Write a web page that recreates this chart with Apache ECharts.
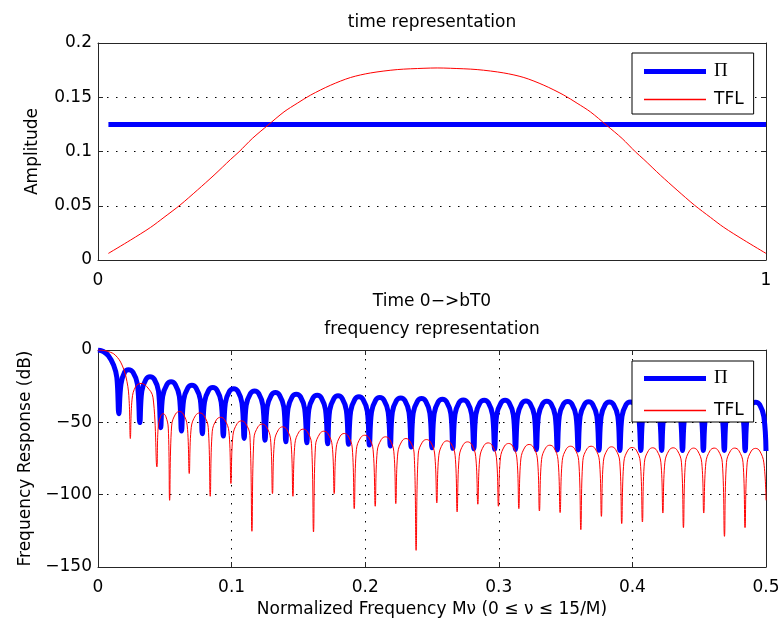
<!DOCTYPE html>
<html><head><meta charset="utf-8">
<script src="https://cdn.jsdelivr.net/npm/echarts@6/dist/echarts.min.js"></script>
<style>html,body{margin:0;padding:0;background:#fff}#c{width:783px;height:623px}</style>
</head><body><div id="c"></div>
<script>
// ---------- data ----------
const topTitle = 'time representation';
const bottomTitle = 'frequency representation';
const seriesNames = ['Π', 'TFL'];

// top panel: time representation [time, amplitude]
const piTime = [[0.0156, 0.125], [1, 0.125]];
const tflTime = [
  [0.0156, 0.0061], [0.0488, 0.0184], [0.0788, 0.0301], [0.0988, 0.0393], [0.1228, 0.0506],
  [0.1487, 0.0644], [0.1737, 0.0782], [0.1985, 0.0927], [0.2111, 0.0997], [0.231, 0.112],
  [0.2545, 0.1243], [0.2784, 0.1365], [0.2984, 0.1445], [0.3183, 0.152], [0.3482, 0.1611],
  [0.3781, 0.1682], [0.4081, 0.1724], [0.448, 0.1755], [0.488, 0.1767], [0.5078, 0.177],
  [0.5276, 0.1767], [0.5676, 0.1755], [0.6075, 0.1724], [0.6375, 0.1682], [0.6674, 0.1611],
  [0.6973, 0.152], [0.7172, 0.1445], [0.7372, 0.1365], [0.7611, 0.1243], [0.7846, 0.112],
  [0.8045, 0.0997], [0.8171, 0.0927], [0.8419, 0.0782], [0.8669, 0.0644], [0.8928, 0.0506],
  [0.9168, 0.0393], [0.9368, 0.0301], [0.9668, 0.0184], [1.0, 0.0061]
];

// bottom panel: frequency response [normalized frequency, dB]
const piFreq = [
  [0,0],[0.004,-1],[0.0078,-4],[0.0117,-10.5],[0.0141,-19],
  [0.0156,-44],[0.0172,-23.6],[0.0200,-15.2],[0.0228,-13.6],[0.0262,-15.4],[0.0295,-23.6],
  [0.0313,-50.2],[0.0328,-28.5],[0.0359,-20.3],[0.0389,-18.5],[0.0422,-20.3],[0.0453,-28.5],
  [0.0469,-53.7],[0.0484,-32],[0.0516,-23.8],[0.0547,-22],[0.0578,-23.8],[0.0609,-32],
  [0.0625,-56],[0.0641,-34.4],[0.0672,-26.2],[0.0703,-24.4],[0.0734,-26.2],[0.0766,-34.4],
  [0.0781,-57.9],[0.0797,-36],[0.0828,-27.8],[0.0859,-26],[0.0891,-27.8],[0.0922,-36],
  [0.0938,-59.5],[0.0953,-36.7],[0.0984,-28.5],[0.1016,-26.7],[0.1047,-28.5],[0.1078,-36.7],
  [0.1094,-61.1],[0.1109,-38.3],[0.1141,-30.1],[0.1172,-28.3],[0.1203,-30.1],[0.1234,-38.3],
  [0.125,-62.4],[0.1266,-39.4],[0.1297,-31.2],[0.1328,-29.4],[0.1359,-31.2],[0.1391,-39.4],
  [0.1406,-63.4],[0.1422,-40.6],[0.1453,-32.4],[0.1484,-30.6],[0.1516,-32.4],[0.1547,-40.6],
  [0.1563,-64.1],[0.1578,-41.3],[0.1609,-33.1],[0.1641,-31.3],[0.1672,-33.1],[0.1703,-41.3],
  [0.1719,-64.8],[0.1734,-41.7],[0.1766,-33.5],[0.1797,-31.7],[0.1828,-33.5],[0.1859,-41.7],
  [0.1875,-65.2],[0.1891,-42.4],[0.1922,-34.2],[0.1953,-32.4],[0.1984,-34.2],[0.2016,-42.4],
  [0.2031,-65.7],[0.2047,-42.9],[0.2078,-34.7],[0.2109,-32.9],[0.2141,-34.7],[0.2172,-42.9],
  [0.2188,-66.4],[0.2203,-43.1],[0.2234,-34.9],[0.2266,-33.1],[0.2297,-34.9],[0.2328,-43.1],
  [0.2344,-67.1],[0.2359,-43.6],[0.2391,-35.4],[0.2422,-33.6],[0.2453,-35.4],[0.2484,-43.6],
  [0.25,-67.6],[0.2516,-44],[0.2547,-35.8],[0.2578,-34],[0.2609,-35.8],[0.2641,-44],
  [0.2656,-68],[0.2672,-44.5],[0.2703,-36.3],[0.2734,-34.5],[0.2766,-36.3],[0.2797,-44.5],
  [0.2813,-68.3],[0.2828,-44.7],[0.2859,-36.5],[0.2891,-34.7],[0.2922,-36.5],[0.2953,-44.7],
  [0.2969,-68.5],[0.2984,-44.8],[0.3016,-36.6],[0.3047,-34.8],[0.3078,-36.6],[0.3109,-44.8],
  [0.3125,-68.7],[0.3141,-45.2],[0.3172,-37],[0.3203,-35.2],[0.3234,-37],[0.3266,-45.2],
  [0.3281,-68.9],[0.3297,-45.4],[0.3328,-37.2],[0.3359,-35.4],[0.3391,-37.2],[0.3422,-45.4],
  [0.3438,-69.1],[0.3453,-45.6],[0.3484,-37.4],[0.3516,-35.6],[0.3547,-37.4],[0.3578,-45.6],
  [0.3594,-69.1],[0.3609,-45.8],[0.3641,-37.6],[0.3672,-35.8],[0.3703,-37.6],[0.3734,-45.8],
  [0.375,-69.3],[0.3766,-45.9],[0.3797,-37.7],[0.3828,-35.9],[0.3859,-37.7],[0.3891,-45.9],
  [0.3906,-69.4],[0.3922,-45.9],[0.3953,-37.7],[0.3984,-35.9],[0.4016,-37.7],[0.4047,-45.9],
  [0.4063,-69.4],[0.4078,-46],[0.4109,-37.8],[0.4141,-36],[0.4172,-37.8],[0.4203,-46],
  [0.4219,-69.4],[0.4234,-46],[0.4266,-37.8],[0.4297,-36],[0.4328,-37.8],[0.4359,-46],
  [0.4375,-69.4],[0.4391,-46],[0.4422,-37.8],[0.4453,-36],[0.4484,-37.8],[0.4516,-46],
  [0.4531,-69.5],[0.4547,-46.1],[0.4578,-37.9],[0.4609,-36.1],[0.4641,-37.9],[0.4672,-46.1],
  [0.4688,-69.5],[0.4703,-46.1],[0.4734,-37.9],[0.4766,-36.1],[0.4797,-37.9],[0.4828,-46.1],
  [0.4844,-69.6],[0.4859,-46.1],[0.4891,-37.9],[0.4922,-36.1],[0.4953,-37.9],[0.4984,-46.1],
  [0.5,-69.8]
];
const tflFreq = [
  [0,0],[0.004,-0.3],[0.0079,-1.1],[0.0129,-3.5],[0.018,-10.4],[0.0217,-21.9],[0.0233,-35],
  [0.0242,-61.2],[0.0255,-34],[0.0282,-25.3],[0.0322,-23.1],[0.0365,-25.3],[0.0412,-33],
  [0.0441,-80.8],[0.0450,-54],[0.0469,-45.8],[0.0488,-44],[0.0507,-45.8],[0.0526,-54],
  [0.0536,-103.9],[0.0551,-52.5],[0.0580,-44.3],[0.0610,-42.5],[0.0639,-44.3],[0.0668,-52.5],
  [0.0683,-85.4],[0.0698,-53.5],[0.0730,-45.3],[0.0762,-43.5],[0.0793,-45.3],[0.0825,-53.5],
  [0.0840,-101.1],[0.0855,-56.5],[0.0886,-48.3],[0.0918,-46.5],[0.0949,-48.3],[0.0980,-56.5],
  [0.0995,-92.3],[0.1010,-59],[0.1042,-50.8],[0.1074,-49],[0.1105,-50.8],[0.1137,-59],
  [0.1152,-125.3],[0.1167,-61.2],[0.1198,-53],[0.1229,-51.2],[0.1260,-53],[0.1291,-61.2],
  [0.1306,-99.3],[0.1321,-63.1],[0.1352,-54.9],[0.1383,-53.1],[0.1413,-54.9],[0.1444,-63.1],
  [0.1459,-101.1],[0.1474,-64.7],[0.1505,-56.5],[0.1536,-54.7],[0.1567,-56.5],[0.1598,-64.7],
  [0.1613,-125.8],[0.1628,-66.1],[0.1660,-57.9],[0.1691,-56.1],[0.1722,-57.9],[0.1753,-66.1],
  [0.1768,-99.3],[0.1783,-67.7],[0.1813,-59.5],[0.1843,-57.7],[0.1873,-59.5],[0.1903,-67.7],
  [0.1918,-109.7],[0.1934,-68.9],[0.1965,-60.7],[0.1997,-58.9],[0.2028,-60.7],[0.2059,-68.9],
  [0.2075,-108],[0.2090,-70],[0.2121,-61.8],[0.2152,-60],[0.2183,-61.8],[0.2214,-70],
  [0.2229,-106.2],[0.2244,-71.2],[0.2275,-63],[0.2305,-61.2],[0.2335,-63],[0.2366,-71.2],
  [0.2381,-138.5],[0.2397,-71.9],[0.2428,-63.7],[0.2459,-61.9],[0.2490,-63.7],[0.2520,-71.9],
  [0.2536,-105.7],[0.2551,-72.8],[0.2582,-64.6],[0.2612,-62.8],[0.2642,-64.6],[0.2673,-72.8],
  [0.2688,-111.9],[0.2704,-73.5],[0.2735,-65.3],[0.2766,-63.5],[0.2797,-65.3],[0.2827,-73.5],
  [0.2843,-106.6],[0.2858,-74.2],[0.2889,-66],[0.2920,-64.2],[0.2951,-66],[0.2982,-74.2],
  [0.2997,-108],[0.3012,-74.6],[0.3043,-66.4],[0.3074,-64.6],[0.3104,-66.4],[0.3135,-74.6],
  [0.3150,-109.7],[0.3165,-75.3],[0.3196,-67.1],[0.3227,-65.3],[0.3258,-67.1],[0.3289,-75.3],
  [0.3304,-111.3],[0.3320,-75.8],[0.3351,-67.6],[0.3382,-65.8],[0.3413,-67.6],[0.3443,-75.8],
  [0.3459,-112.4],[0.3475,-76.5],[0.3506,-68.3],[0.3537,-66.5],[0.3568,-68.3],[0.3598,-76.5],
  [0.3614,-124.2],[0.3629,-76.5],[0.3660,-68.3],[0.3691,-66.5],[0.3722,-68.3],[0.3753,-76.5],
  [0.3768,-115],[0.3783,-76.9],[0.3814,-68.7],[0.3844,-66.9],[0.3874,-68.7],[0.3905,-76.9],
  [0.3920,-120],[0.3936,-77.4],[0.3967,-69.2],[0.3998,-67.4],[0.4029,-69.2],[0.4059,-77.4],
  [0.4075,-118.9],[0.4090,-77.6],[0.4121,-69.4],[0.4152,-67.6],[0.4182,-69.4],[0.4213,-77.6],
  [0.4228,-112.7],[0.4243,-77.6],[0.4274,-69.4],[0.4305,-67.6],[0.4336,-69.4],[0.4367,-77.6],
  [0.4382,-122.8],[0.4397,-77.8],[0.4428,-69.6],[0.4458,-67.8],[0.4488,-69.6],[0.4519,-77.8],
  [0.4534,-112.7],[0.4550,-77.8],[0.4581,-69.6],[0.4612,-67.8],[0.4643,-69.6],[0.4673,-77.8],
  [0.4689,-128.8],[0.4704,-77.8],[0.4735,-69.6],[0.4766,-67.8],[0.4797,-69.6],[0.4828,-77.8],
  [0.4843,-122.8],[0.4859,-78],[0.4890,-69.8],[0.4922,-68],[0.4953,-69.8],[0.4984,-78],
  [0.5,-103.9]
];

// ---------- chart ----------
const FONT = 'DejaVu Sans';
const AX = '#262626';
const BLUE = '#0000ff', RED = '#ff0000';
const minusFmt = v => String(+v.toFixed(4)).replace('-', '\u2212');
const gridDots = { color: '#000', width: 1, type: [1.5, 7.5] };

function mkAxis(gi, pos, min, max, step, opts) {
  return Object.assign({
    type: 'value', gridIndex: gi, position: pos, min, max, interval: step,
    axisLine: { show: true, onZero: false, lineStyle: { color: AX, width: 1 } },
    axisTick: { show: true, inside: true, length: 5, lineStyle: { color: AX } },
    axisLabel: { show: false },
    splitLine: { show: false }
  }, opts || {});
}
const xLabelStyle = { show: true, fontFamily: FONT, fontSize: 17, color: '#000', margin: 12, formatter: minusFmt };
const yLabelStyle = { show: true, fontFamily: FONT, fontSize: 17, color: '#000', margin: 6, formatter: minusFmt };
const nameStyle = { fontFamily: FONT, fontSize: 17, color: '#000' };

// legend sample icons: a horizontal bar inside a 62x14 box (thick for Π, thin for TFL)
const thickIcon = 'path://M0,0M0,4.5L62,4.5L62,9.5L0,9.5ZM62,14';
const thinIcon = 'path://M0,0M0,6.25L62,6.25L62,7.75L0,7.75ZM62,14';

function legendCfg(top, pad, gap) {
  return {
    orient: 'vertical', left: 632, top: top, padding: pad, itemGap: gap,
    itemWidth: 62, itemHeight: 14, selectedMode: false, symbolKeepAspect: true,
    borderColor: '#000', borderWidth: 1, borderRadius: 0, backgroundColor: '#fff',
    itemStyle: { borderWidth: 0 },
    data: [
      { name: seriesNames[0], icon: thickIcon, itemStyle: { color: BLUE, borderWidth: 0 } },
      { name: seriesNames[1], icon: thinIcon, itemStyle: { color: RED, borderWidth: 0 } }
    ],
    formatter: n => n === 'Π' ? '{pi|Π}' : n,
    textStyle: {
      fontFamily: FONT, fontSize: 17, color: '#000', lineHeight: 17, padding: [0, 0, 0, 3],
      rich: { pi: { fontFamily: 'Liberation Serif', fontSize: 19, lineHeight: 17, color: '#000' } }
    }
  };
}
const titleStyle = { fontFamily: FONT, fontSize: 17, fontWeight: 'normal', color: '#000' };

const option = {
  animation: false,
  backgroundColor: '#fff',
  title: [
    { text: topTitle, left: 432, top: 14, padding: 0, textAlign: 'center', textStyle: titleStyle },
    { text: bottomTitle, left: 432, top: 321, padding: 0, textAlign: 'center', textStyle: titleStyle }
  ],
  grid: [
    { left: 98, top: 43, width: 668, height: 217, show: false },
    { left: 98, top: 350, width: 668, height: 217, show: false }
  ],
  legend: [legendCfg(53, [9, 10, 6, 12], 10), legendCfg(361, [8, 10, 3, 12], 14)],
  xAxis: [
    mkAxis(0, 'bottom', 0, 1, 1, { axisLabel: xLabelStyle, name: 'Time 0\u2212>bT0', nameLocation: 'middle', nameGap: 33, nameTextStyle: nameStyle }),
    mkAxis(0, 'top', 0, 1, 1),
    mkAxis(1, 'bottom', 0, 0.5, 0.1, { axisLabel: xLabelStyle, splitLine: { show: true, lineStyle: gridDots },
      name: 'Normalized Frequency M\u03bd (0 \u2264 \u03bd \u2264 15/M)', nameLocation: 'middle', nameGap: 34, nameTextStyle: nameStyle }),
    mkAxis(1, 'top', 0, 0.5, 0.1)
  ],
  yAxis: [
    mkAxis(0, 'left', 0, 0.2, 0.05, { axisLabel: yLabelStyle, splitLine: { show: true, lineStyle: gridDots },
      name: 'Amplitude', nameLocation: 'middle', nameGap: 57, nameTextStyle: nameStyle }),
    mkAxis(0, 'right', 0, 0.2, 0.05),
    mkAxis(1, 'left', -150, 0, 50, { axisLabel: yLabelStyle, splitLine: { show: true, lineStyle: gridDots },
      name: 'Frequency Response (dB)', nameLocation: 'middle', nameGap: 61, nameTextStyle: nameStyle }),
    mkAxis(1, 'right', -150, 0, 50)
  ],
  series: [
    { name: 'Π', type: 'line', xAxisIndex: 0, yAxisIndex: 0, data: piTime, symbol: 'none',
      lineStyle: { color: BLUE, width: 5 }, itemStyle: { color: BLUE } },
    { name: 'TFL', type: 'line', xAxisIndex: 0, yAxisIndex: 0, data: tflTime, symbol: 'none', smooth: 0.3,
      lineStyle: { color: RED, width: 1 }, itemStyle: { color: RED } },
    { name: 'Π', type: 'line', xAxisIndex: 2, yAxisIndex: 2, data: piFreq, symbol: 'none', smooth: 0.4,
      lineStyle: { color: BLUE, width: 5 }, itemStyle: { color: BLUE } },
    { name: 'TFL', type: 'line', xAxisIndex: 2, yAxisIndex: 2, data: tflFreq, symbol: 'none', smooth: 0.4,
      lineStyle: { color: RED, width: 1 }, itemStyle: { color: RED } }
  ]
};
const chart = echarts.init(document.getElementById('c'), null, { renderer: 'canvas' });
chart.setOption(option);
</script>
</body></html>
